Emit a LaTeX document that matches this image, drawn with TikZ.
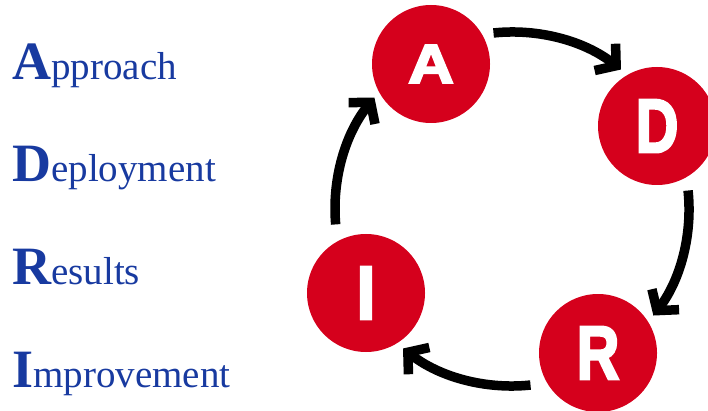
\documentclass[tikz,border=0pt]{standalone}
\usepackage{fontspec}
\usepackage{graphicx}
\setmainfont{Liberation Serif}
\newfontfamily\cycfont[FakeBold=3.5]{Liberation Sans Bold}
\usetikzlibrary{arrows.meta,calc}
\definecolor{radarred}{RGB}{213,0,28}
\definecolor{radarblue}{RGB}{24,58,160}
% white letter inside a stage circle: size, horizontal scale, letter
\newcommand\cyclet[3]{\scalebox{#2}[1]{\cycfont\fontsize{#1}{#1}\selectfont #3}}
% blue term with a large bold initial
\newcommand\radarterm[2]{{\fontsize{54}{54}\selectfont\bfseries #1}{\fontsize{39}{39}\selectfont #2}}

\begin{document}
\begin{tikzpicture}[x=1pt,y=1pt,
  stage/.style={circle,fill=radarred,minimum size=118pt,inner sep=0pt,text=white},
  term/.style={anchor=base west,inner sep=0pt,text=radarblue},
  cyc/.style={line width=9.5pt,line cap=butt,-{Straight Barb[length=14pt,width=34pt,line join=miter]}}]
\useasboundingbox (0,0) rectangle (708,-411);

% legend of the four stages
\node[term] (tA) at (12,-80)  {\radarterm{A}{pproach}};
\node[term] (tD) at (12,-182) {\radarterm{D}{eployment}};
\node[term] (tR) at (12,-284) {\radarterm{R}{esults}};
\node[term] (tI) at (12,-387) {\radarterm{I}{mprovement}};

% the cycle
\coordinate (ring) at (512,-209);
\node[stage] (A) at (431,-64)  {\cyclet{55}{1.15}{A}};
\node[stage] (D) at (657,-126) {\cyclet{76}{0.78}{D}};
\node[stage] (R) at (598,-353) {\cyclet{76}{0.78}{R}};
\node[stage] (I) at (366,-293) {\cyclet{76}{0.9}{I}};

\coordinate (AD) at ($(ring)+(96:177)$);
\coordinate (DR) at ($(ring)+(6:177)$);
\coordinate (RI) at ($(ring)+(-84:177)$);
\coordinate (IA) at ($(ring)+(185:177)$);
\draw[cyc] (AD) arc[start angle=96,end angle=52,radius=177];
\draw[cyc] (DR) arc[start angle=6,end angle=-37,radius=177];
\draw[cyc] (RI) arc[start angle=-84,end angle=-128,radius=177];
\draw[cyc] (IA) arc[start angle=185,end angle=141,radius=177];
\end{tikzpicture}
\end{document}
